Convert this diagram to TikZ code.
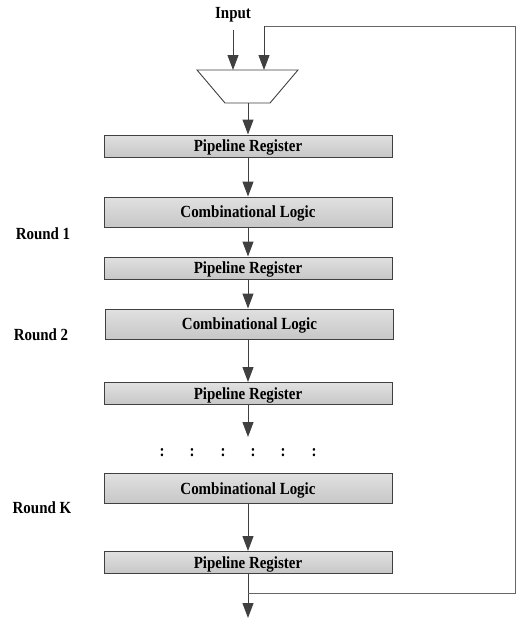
\documentclass[tikz,border=0pt]{standalone}
\usepackage{fontspec}
\setmainfont{Liberation Serif}
\newfontfamily\lblfont[FakeStretch=0.88]{Liberation Serif}
\usetikzlibrary{arrows.meta}
\begin{document}
\begin{tikzpicture}[x=1pt,y=-1pt,
  lbl/.style={font=\lblfont\bfseries\fontsize{17}{20}\selectfont, inner sep=0pt},
  blk/.style={lbl, draw=black!75, line width=1pt, top color=black!12, bottom color=black!22,
    minimum width=288pt, anchor=center, text height=11.5pt, text depth=0pt},
  reg/.style={blk, minimum height=22pt},
  logic/.style={blk, minimum height=30pt},
  flow/.style={draw=black!75, line width=1pt, -{Triangle[length=15pt,width=11pt]}},
  fb/.style={draw=black!60, line width=0.9pt}]
\useasboundingbox (0,0) rectangle (518,619);
\node[lbl] (input) at (233,15) {Input};
% mux
\coordinate (mtl) at (197,70); \coordinate (mtr) at (298,70);
\coordinate (mbr) at (270,103); \coordinate (mbl) at (225,103);
\draw[draw=black!75, line width=0.9pt, fill=white] (mtl) -- (mtr) -- (mbr) -- (mbl) -- cycle;
\coordinate (in1) at (233,70);
\coordinate (in2) at (264,70);
\coordinate (mout) at (248,103);
\coordinate (instart) at (233,30);
% blocks
\node[reg] (pr1) at (248,146) {Pipeline Register};
\node[logic] (cl1) at (248,212) {Combinational Logic};
\node[reg] (pr2) at (248,268) {Pipeline Register};
\node[logic] (cl2) at (249.5,324) {Combinational Logic};
\node[reg] (pr3) at (248,393.5) {Pipeline Register};
\node[logic] (clk) at (248,488.5) {Combinational Logic};
\node[reg] (prk) at (248,562.5) {Pipeline Register};
% round labels
\node[lbl] (r1) at (43,234) {Round 1};
\node[lbl] (r2) at (41,335) {Round 2};
\node[lbl] (rk) at (42,508) {Round K};
% dots
\coordinate (dotsarrow) at (248,437);
\foreach \x [count=\i] in {162,192,223,253,283,314}
  \node[lbl] (dot\i) at (\x,453) {:};
% arrows
\draw[flow] (instart) -- (in1);
\draw[flow] (mout) -- (pr1.north);
\draw[flow] (pr1.south) -- (cl1.north);
\draw[flow] (cl1.south) -- (pr2.north);
\draw[flow] (pr2.south) -- (pr2.south |- cl2.north);
\draw[flow] (pr3.north |- cl2.south) -- (pr3.north);
\draw[flow] (pr3.south) -- (dotsarrow);
\draw[flow] (clk.south) -- (prk.north);
\coordinate (branch) at (248,593);
\coordinate (outend) at (248,618);
\coordinate (fbr1) at (515,593);
\coordinate (fbr2) at (515,26);
\coordinate (fbl) at (264,26);
\draw[flow] (prk.south) -- (outend);
\draw[fb] (branch) -- (fbr1) -- (fbr2) -- (fbl);
\draw[flow] (fbl) -- (in2);
\end{tikzpicture}
\end{document}
